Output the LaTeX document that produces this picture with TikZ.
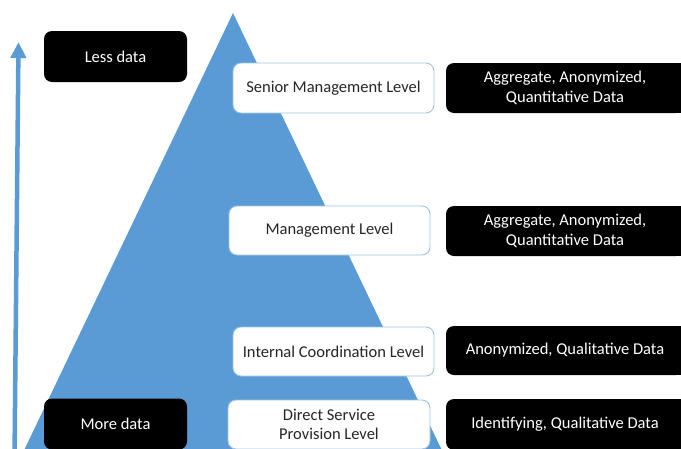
\documentclass[tikz,border=0pt]{standalone}
\usepackage{fontspec}
\setmainfont{Carlito}
\usetikzlibrary{arrows.meta,backgrounds}
\definecolor{pyrblue}{RGB}{91,155,213}
\definecolor{edgeblue}{RGB}{157,195,230}
\definecolor{textgrey}{RGB}{38,38,38}
\tikzset{
  levelbox/.style={draw=edgeblue, line width=0.9pt, fill=white, rounded corners=8pt,
    text=textgrey, align=center, inner sep=0pt,
    font=\fontsize{16.5}{19.5}\selectfont},
  databox/.style={fill=black, rounded corners=8pt, text=white, align=center,
    inner sep=0pt, font=\fontsize{16.5}{19.5}\selectfont},
  trend/.style={draw=pyrblue, line width=4.5pt, -{Triangle[length=16pt,width=15pt]}}
}
\begin{document}
\begin{tikzpicture}[x=1pt,y=-1pt]
\useasboundingbox (0,0) rectangle (681,448);
\clip (0,0) rectangle (681,448);

% pyramid
\fill[pyrblue] (233,13) -- (480,530) -- (-14,530) -- cycle;

% direction of data volume
\coordinate (abot) at (14.5,460);
\coordinate (atop) at (18.5,42);
\draw[trend] (abot) -- (atop);

% left labels
\node[databox, minimum width=143pt, minimum height=51pt] (less) at (115.5,56.5) {Less data};
\node[databox, minimum width=143pt, minimum height=51pt] (more) at (115.5,424) {More data};

% pyramid levels
\node[levelbox, minimum width=201pt, minimum height=50pt] (senior) at (333.5,88) {Senior Management Level};
\node[levelbox, minimum width=201pt, minimum height=49pt] (mgmt) at (329.5,230.5) {Management Level};
\node[levelbox, minimum width=201pt, minimum height=49pt] (internal) at (333.5,351.5) {Internal Coordination Level};
\node[levelbox, minimum width=202pt, minimum height=49pt] (direct) at (329,424.5) {Direct Service\\Provision Level};

% data types
\node[databox, minimum width=238pt, minimum height=50pt] (d1) at (565,88) {Aggregate, Anonymized,\\Quantitative Data};
\node[databox, minimum width=238pt, minimum height=50pt] (d2) at (565,231) {Aggregate, Anonymized,\\Quantitative Data};
\node[databox, minimum width=238pt, minimum height=49pt] (d3) at (565,350.5) {Anonymized, Qualitative Data};
\node[databox, minimum width=238pt, minimum height=51pt] (d4) at (565,424.5) {Identifying, Qualitative Data};

% data boxes run on past the right margin
\begin{scope}[on background layer]
  \foreach \b in {d1,d2,d3,d4}
    \fill[black] (\b.north) rectangle ([xshift=20pt]\b.south east);
\end{scope}
\end{tikzpicture}
\end{document}
